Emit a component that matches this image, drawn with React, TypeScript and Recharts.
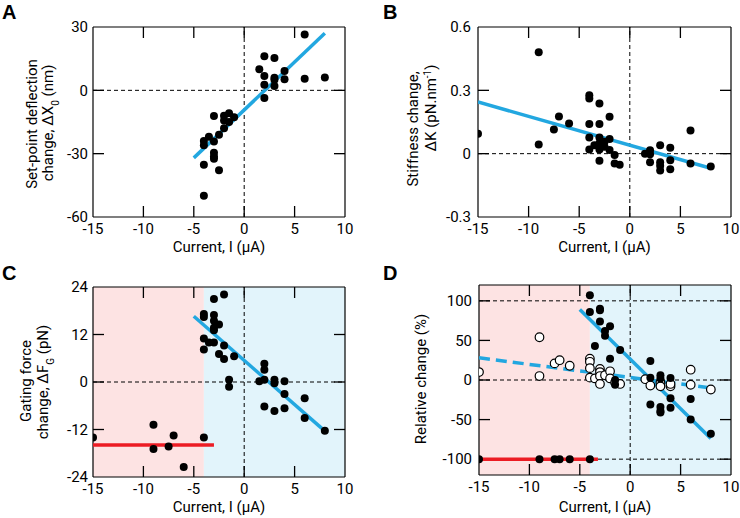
import React from 'react';
import { ScatterChart, Scatter, XAxis, YAxis, ReferenceLine, ReferenceArea } from 'recharts';

const FONT = 'Roboto, "Noto Sans", sans-serif';
const BLUE = '#22a7e0';
const RED = '#ec1c24';
const PINK = '#fde3e3';
const LIGHTBLUE = '#e2f4fb';

const xTicks = [-15, -10, -5, 0, 5, 10];
const xDomain = [-15, 10];
const xLabel = 'Current, I (μA)';

const aYTicks = [-60, -30, 0, 30];
const aYDomain = [-60, 30];
const bYTicks = [-0.3, 0, 0.3, 0.6];
const bYDomain = [-0.3, 0.6];
const cYTicks = [-24, -12, 0, 12, 24];
const cYDomain = [-24, 24];
const dYTicks = [-100, -50, 0, 50, 100];
const dYDomain = [-120, 120];
const dDashedY = [0, 100, -100];

const regionEdges = [-15, -4, 10];

const aPoints = [
  [6, 26.4], [2, 16.2], [3, 15.3], [1.5, 10], [2, 6.8], [4, 9.1], [4, 5.2], [3, 6], [3, 5], [3, 2],
  [2, 2.7], [2, -3.6], [6, 5.5], [8, 6.1], [-2, -12], [-3, -12.1], [-1.5, -10.9], [-2, -14.3],
  [-1.5, -15], [-1, -12.7], [-2, -18], [-2.5, -21], [-3.5, -22], [-4, -24], [-3, -24.2], [-4, -26],
  [-3, -29.6], [-3, -31.3], [-3, -32.4], [-4, -35.2], [-2.5, -37.9], [-4, -49.9],
];
const aFit = [[-5, -32], [8, 27]];

const bPoints = [
  [-15, 0.094], [-9, 0.48], [-9, 0.044], [-7.5, 0.115], [-7, 0.176], [-6, 0.143], [-4, 0.277],
  [-4, 0.261], [-4, 0.14], [-4, 0.077], [-4, 0.02], [-3, 0.238], [-3, 0.14], [-3, 0.077], [-3, 0.049],
  [-3, 0.02], [-3, -0.033], [-3.5, 0.04], [-2.5, 0.057], [-2.5, 0.033], [-2, 0.175], [-2, 0.07],
  [-2, 0.017], [-1.5, -0.006], [-1.5, -0.046], [-1, -0.053], [1.5, 0], [2, 0.016], [2, -0.003],
  [2, -0.041], [3, 0.04], [3, -0.041], [3, -0.057], [3, -0.08], [4, 0.028], [4, -0.031], [4, -0.074],
  [6, 0.11], [6, -0.046], [8, -0.061],
];
const bFit = [[-15, 0.245], [8, -0.069]];

const cPoints = [
  [-15, -14], [-9, -10.8], [-9, -16.9], [-7.5, -16.3], [-7, -13.5], [-6, -21.5], [-4, -14],
  [-4, 17.2], [-4, 16.4], [-4, 11], [-4, 8.2], [-3, 21], [-3, 16.9], [-3, 15.5], [-3, 13.7],
  [-3, 13.1], [-3, 10], [-3.5, 10], [-2.5, 14.5], [-2.5, 7.1], [-2, 22.1], [-2, 9.2], [-2, 5.8],
  [-1, 6.5], [-1.5, 0.6], [-1.5, -1.2], [1.5, 0.2], [2, 4.6], [2, 3.1], [2, 0.6], [2, -6.2],
  [3, 0.6], [3, -0.3], [3, -7.3], [4, 0.2], [4, -3], [4, -6.6], [6, -4.1], [6, -9.1], [8, -12.3],
];
const cFitBlue = [[-5, 16.6], [7.7, -11.7]];
const cFitRed = [[-15, -15.9], [-3, -15.9]];

const dFilled = [
  [-15, -100], [-9, -100], [-7.5, -100], [-7, -100], [-6, -100], [-4, -100], [-4, 107], [-4, 86],
  [-3, 90], [-3, 88], [-3, 74], [-2.5, 62], [-2.5, 56], [-3.5, 43], [-2, 68], [-2, 27], [-1, 38],
  [-1.5, 0], [-1.5, -6], [2, 24], [2, 3], [2, -31], [3, 6], [3, 2], [3, -34], [3, -39], [3, -41],
  [4, 2.5], [4, -23], [4, -35], [6, -24], [6, -50], [8, -68],
];
const dOpen = [
  [-15, 10], [-9, 54], [-9, 5], [-7.5, 21], [-7, 25], [-6, 18], [-4, 27], [-4, 23], [-4, 15],
  [-4, 3], [-3.5, 2], [-3, 14], [-3, 10], [-3, 5], [-3, -5], [-2.5, 6], [-2, 11], [-2, 2],
  [-1.5, -3], [-1, -5], [1.5, 1], [2, -7], [3, -3], [3, -8], [4, -8], [4, -5], [6, 13], [6, -6],
  [8, -12],
];
const dFitSolid = [[-5, 89], [8, -74]];
const dFitDashed = [[-15, 28], [8, -10]];
const dFitRed = [[-15, -100], [-3.2, -100]];

const toXY = (a: number[][]) => a.map(([x, y]) => ({ x, y }));

const Dot = (p: any) => <circle cx={p.cx} cy={p.cy} r={4} fill="#000" />;
const OpenDot = (p: any) => <circle cx={p.cx} cy={p.cy} r={4.3} fill="#fff" stroke="#000" strokeWidth={1.2} />;
const NoShape = () => <g />;

const TICK_LEN = 11;
const TICK_W = 1.3;

type YLine = { x: number; cy: number; content: React.ReactNode };

type PanelProps = {
  left: number;
  top: number;
  margin: { top: number; right: number; bottom: number; left: number };
  xHeight: number;
  yGap: number;
  yDomain: number[];
  yTicks: number[];
  yLines: YLine[];
  children?: React.ReactNode;
};

function Panel(props: PanelProps) {
  const { left, top, margin, xHeight, yGap, yDomain, yTicks, yLines, children } = props;
  const W = 370;
  const H = 260;
  const plotLeft = margin.left + 60;
  const plotRight = W - margin.right - 1;
  const plotTop = margin.top + 1;
  const plotBottom = H - margin.bottom - xHeight;
  const plotW = plotRight - plotLeft;
  const plotH = plotBottom - plotTop;
  // inward tick length expressed in data units, drawn through the chart scales
  const dx = ((xDomain[1] - xDomain[0]) * TICK_LEN) / plotW;
  const dy = ((yDomain[1] - yDomain[0]) * TICK_LEN) / plotH;
  const [x0, x1] = xDomain;
  const [y0, y1] = yDomain;

  const tickSegs: React.ReactNode[] = [];
  xTicks
    .filter((t) => t > x0 && t < x1)
    .forEach((t) => {
      tickSegs.push(
        <ReferenceLine key={'xb' + t} xAxisId="b" yAxisId="l" ifOverflow="visible" stroke="#000" strokeWidth={TICK_W}
          segment={[{ x: t, y: y0 }, { x: t, y: y0 + dy }]} />,
        <ReferenceLine key={'xt' + t} xAxisId="b" yAxisId="l" ifOverflow="visible" stroke="#000" strokeWidth={TICK_W}
          segment={[{ x: t, y: y1 }, { x: t, y: y1 - dy }]} />
      );
    });
  yTicks
    .filter((v) => v > y0 && v < y1)
    .forEach((v) => {
      tickSegs.push(
        <ReferenceLine key={'yl' + v} xAxisId="b" yAxisId="l" ifOverflow="visible" stroke="#000" strokeWidth={TICK_W}
          segment={[{ x: x0, y: v }, { x: x0 + dx, y: v }]} />,
        <ReferenceLine key={'yr' + v} xAxisId="b" yAxisId="l" ifOverflow="visible" stroke="#000" strokeWidth={TICK_W}
          segment={[{ x: x1, y: v }, { x: x1 - dx, y: v }]} />
      );
    });

  const bottomTick = (p: any) => (
    <text x={p.x} y={plotBottom + 17} textAnchor="middle" fontSize={15} fill="#000" fontFamily={FONT}>
      {String(p.payload.value)}
    </text>
  );
  const leftTick = (p: any) => (
    <text x={plotLeft - yGap} y={p.y + 5.3} textAnchor="end" fontSize={15} fill="#000" fontFamily={FONT}>
      {String(p.payload.value)}
    </text>
  );

  const yLabel = () => (
    <g>
      {yLines.map((l, i) => (
        <text key={i} transform={`translate(${l.x},${l.cy}) rotate(-90)`} textAnchor="middle" fontSize={15} fill="#000" fontFamily={FONT}>
          {l.content}
        </text>
      ))}
    </g>
  );
  return (
    <div style={{ position: 'absolute', left, top }}>
      <ScatterChart width={W} height={H} margin={margin} style={{ fontFamily: FONT }}>
        <XAxis xAxisId="b" type="number" dataKey="x" domain={xDomain} ticks={xTicks} interval={0} height={xHeight}
          allowDataOverflow tickSize={0} tickLine={false} stroke="#000" strokeWidth={1.2} tick={bottomTick}
          label={{ value: xLabel, position: 'insideBottom', offset: 0, fill: '#000', fontSize: 15 }} />
        <XAxis xAxisId="t" orientation="top" type="number" dataKey="x" domain={xDomain} ticks={xTicks} interval={0}
          allowDataOverflow height={1} tickSize={0} tickLine={false} tick={false} stroke="#000" strokeWidth={1.2} />
        <YAxis yAxisId="l" type="number" dataKey="y" domain={yDomain} ticks={yTicks} interval={0} width={60}
          allowDataOverflow tickSize={0} tickLine={false} stroke="#000" strokeWidth={1.2} tick={leftTick} label={yLabel} />
        <YAxis yAxisId="r" orientation="right" type="number" dataKey="y" domain={yDomain} ticks={yTicks} interval={0}
          allowDataOverflow width={1} tickSize={0} tickLine={false} tick={false} stroke="#000" strokeWidth={1.2} />
        {children}
        {tickSegs}
      </ScatterChart>
    </div>
  );
}

const dash = '4 3';

function fit(data: number[][], color: string, key: string, dashed?: boolean) {
  return (
    <Scatter key={key} xAxisId="b" yAxisId="l" data={toXY(data)}
      line={{ stroke: color, strokeWidth: 3.5, strokeDasharray: dashed ? '11 6' : undefined }}
      shape={NoShape} isAnimationActive={false} />
  );
}

function zeroLines(ys: number[]) {
  return [
    ...ys.map((y) => (
      <ReferenceLine key={'h' + y} xAxisId="b" yAxisId="l" y={y} stroke="#000" strokeWidth={1} strokeDasharray={dash} />
    )),
    <ReferenceLine key="v0" xAxisId="b" yAxisId="l" x={0} stroke="#000" strokeWidth={1} strokeDasharray={dash} />,
  ];
}

function regions() {
  return [
    <ReferenceArea key="pink" xAxisId="b" yAxisId="l" x1={regionEdges[0]} x2={regionEdges[1]} fill={PINK} fillOpacity={1} stroke="none" />,
    <ReferenceArea key="blue" xAxisId="b" yAxisId="l" x1={regionEdges[1]} x2={regionEdges[2]} fill={LIGHTBLUE} fillOpacity={1} stroke="none" />,
  ];
}

const LETTER_FONT = '"Liberation Sans", Arial, sans-serif';

export default function App() {
  return (
    <div style={{ position: 'absolute', left: 0, top: 0, width: 740, height: 518, background: '#fff', fontFamily: FONT }}>
      <Panel left={0} top={0} margin={{ top: 26, right: 24, bottom: 8, left: 33 }} xHeight={35} yGap={5}
        yDomain={aYDomain} yTicks={aYTicks}
        yLines={[
          { x: 37, cy: 124, content: 'Set-point deflection' },
          { x: 53, cy: 123, content: (<>{'change, ΔX'}<tspan baselineShift="sub" fontSize={10}>0</tspan>{' (nm)'}</>) },
        ]}>
        {zeroLines([0])}
        {fit(aFit, BLUE, 'afit')}
        <Scatter xAxisId="b" yAxisId="l" data={toXY(aPoints)} shape={Dot} isAnimationActive={false} />
      </Panel>

      <Panel left={370} top={0} margin={{ top: 26, right: 8, bottom: 8, left: 48 }} xHeight={35} yGap={7}
        yDomain={bYDomain} yTicks={bYTicks}
        yLines={[
          { x: 48, cy: 129, content: 'Stiffness change,' },
          { x: 66, cy: 108, content: (<>{'ΔK (pN.nm'}<tspan baselineShift="super" fontSize={10}>-1</tspan>{')'}</>) },
        ]}>
        {zeroLines([0])}
        {fit(bFit, BLUE, 'bfit')}
        <Scatter xAxisId="b" yAxisId="l" data={toXY(bPoints)} shape={Dot} isAnimationActive={false} />
      </Panel>

      <Panel left={0} top={260} margin={{ top: 26, right: 24, bottom: 8, left: 33 }} xHeight={35} yGap={5}
        yDomain={cYDomain} yTicks={cYTicks}
        yLines={[
          { x: 31, cy: 121, content: 'Gating force' },
          { x: 48, cy: 122, content: (<>{'change, ΔF'}<tspan baselineShift="sub" fontSize={10}>G</tspan>{' (pN)'}</>) },
        ]}>
        {regions()}
        {zeroLines([0])}
        {fit(cFitBlue, BLUE, 'cfitb')}
        {fit(cFitRed, RED, 'cfitr')}
        <Scatter xAxisId="b" yAxisId="l" data={toXY(cPoints)} shape={Dot} isAnimationActive={false} />
      </Panel>

      <Panel left={370} top={260} margin={{ top: 24, right: 8, bottom: 8, left: 49 }} xHeight={37} yGap={7}
        yDomain={dYDomain} yTicks={dYTicks}
        yLines={[{ x: 56, cy: 119, content: 'Relative change (%)' }]}>
        {regions()}
        {zeroLines(dDashedY)}
        {fit(dFitDashed, BLUE, 'dfitd', true)}
        {fit(dFitSolid, BLUE, 'dfits')}
        {fit(dFitRed, RED, 'dfitr')}
        <Scatter xAxisId="b" yAxisId="l" data={toXY(dOpen)} shape={OpenDot} isAnimationActive={false} />
        <Scatter xAxisId="b" yAxisId="l" data={toXY(dFilled)} shape={Dot} isAnimationActive={false} />
      </Panel>

      <svg width={740} height={518} style={{ position: 'absolute', left: 0, top: 0, pointerEvents: 'none' }}>
        <text x={2} y={19} fontSize={20} fontWeight="bold" fontFamily={LETTER_FONT}>A</text>
        <text x={383} y={19} fontSize={20} fontWeight="bold" fontFamily={LETTER_FONT}>B</text>
        <text x={2} y={280} fontSize={20} fontWeight="bold" fontFamily={LETTER_FONT}>C</text>
        <text x={383} y={280} fontSize={20} fontWeight="bold" fontFamily={LETTER_FONT}>D</text>
      </svg>
    </div>
  );
}
